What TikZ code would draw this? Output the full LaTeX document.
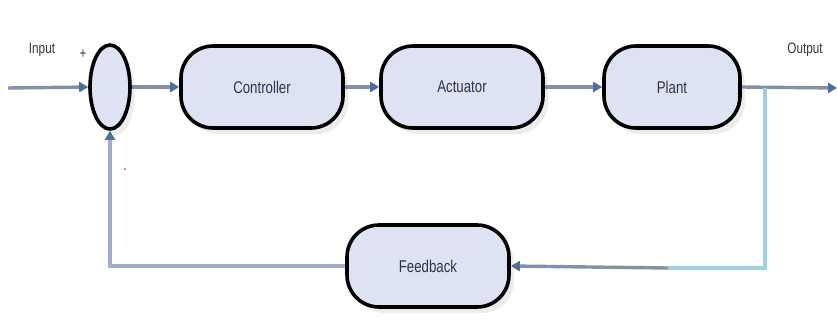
\documentclass[tikz,border=0pt]{standalone}
\usepackage{fontspec}
\setmainfont{Liberation Sans}
\newfontfamily\condfont[FakeStretch=0.78]{Liberation Sans}
\usetikzlibrary{arrows.meta,shapes.geometric,shadows,positioning}
\definecolor{boxfill}{HTML}{DDE3F3}
\definecolor{linegray}{HTML}{8391A8}
\definecolor{tipblue}{HTML}{4A709A}
\definecolor{fbline}{HTML}{A3ABCF}
\definecolor{branchblue}{HTML}{9FD0E0}
\definecolor{txt}{HTML}{2E3440}
\tikzset{
  blockbox/.style={draw=black, line width=3.6pt, fill=boxfill, rounded corners=32pt,
    minimum width=162pt, minimum height=82pt, text=txt,
    font=\condfont\fontsize{17}{19}\selectfont,
    drop shadow={shadow xshift=5pt, shadow yshift=-6pt, opacity=0.15}},
  sumnode/.style={draw=black, line width=3.6pt, fill=boxfill, ellipse,
    minimum width=40pt, minimum height=84pt, inner sep=0pt,
    drop shadow={shadow xshift=5pt, shadow yshift=-6pt, opacity=0.15}},
  conn/.style={draw=linegray, line width=3.4pt, -{Triangle[length=9pt,width=10pt,color=tipblue]}},
  lbl/.style={text=txt, font=\condfont\fontsize{15}{17}\selectfont, inner sep=0pt}
}
\begin{document}
\begin{tikzpicture}[x=1pt,y=-1pt]
\useasboundingbox (0,0) rectangle (837,322);
\node[sumnode] (sum) at (110,87) {};
\node[blockbox] (ctrl) at (262,87) {Controller};
\node[blockbox] (act) at (462,87) {Actuator};
\node[blockbox, minimum width=136pt] (plant) at (672,87) {Plant};
\node[blockbox] (fb) at (428,266) {Feedback};
\node[lbl] (tin) at (42,50) {Input};
\node[lbl] (tplus) at (83,54) {+};
\node[lbl] (tminus) at (125,170) {.};
\node[lbl] (tout) at (805,50) {Output};
\coordinate (in) at (8,88);
\coordinate (out) at (837,88);
\coordinate (br) at (765,88);
\coordinate (mid) at (668,268);
\draw[conn] (in) -- (sum.west);
\draw[conn] (sum.east) -- (ctrl.west);
\draw[conn] (ctrl.east) -- (act.west);
\draw[conn] (act.east) -- (plant.west);
\draw[conn] (plant.east) -- (out);
\draw[draw=branchblue, line width=3.4pt] (br) |- (mid);
\draw[conn] (mid) -- (fb.east);
\draw[conn, draw=fbline] (fb.west) -| (sum.south);
\end{tikzpicture}
\end{document}
